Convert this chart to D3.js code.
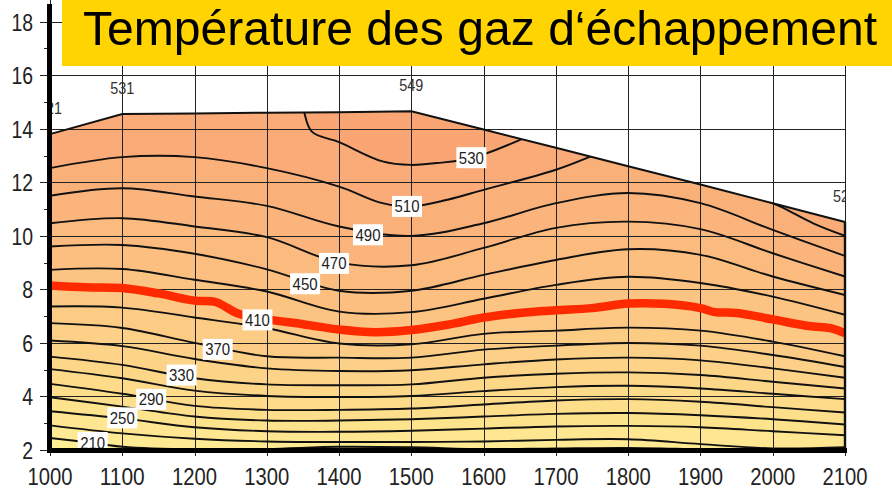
<!DOCTYPE html>
<html>
<head>
<meta charset="utf-8">
<script src="https://cdn.jsdelivr.net/npm/d3@7"></script>
<style>
  body { margin: 0; background: #fff; }
  svg { display: block; font-family: "Liberation Sans", Arial, sans-serif; }
</style>
</head>
<body>
<div id="chart"></div>
<script>
/////////////////////////////////////
///      DATA
/////////////////////////////////////
var titleText = "Température des gaz d\u2018échappement";

var xTickValues = [1000, 1100, 1200, 1300, 1400, 1500, 1600, 1700, 1800, 1900, 2000, 2100];
var yTickValues = [2, 4, 6, 8, 10, 12, 14, 16, 18];

// rpm columns used by most isolines
var rpmCols = [1000, 1100, 1200, 1300, 1400, 1500, 1600, 1700, 1800, 1900, 2000, 2100];

// full load curve (bmep, bar)
var fullLoad = [13.8, 14.55, 14.57, 14.6, 14.62, 14.65, 13.97, 13.29, 12.6, 11.92, 11.22, 10.52];
// max temperatures written on the full load curve
var peakRpm = [1000, 1100, 1500, 2100];
var peakTemp = ["521", "531", "549", "524"];

// isolines, bmep at rpmCols
var iso230 = [2.92, 2.62, 2.42, 2.32, 2.3, 2.3, 2.32, 2.38, 2.4, 2.22, 2.06, 2.1];
var iso250 = [3.45, 3.18, 2.85, 2.7, 2.68, 2.72, 2.8, 2.88, 2.9, 2.85, 2.7, 2.55];
var iso270 = [3.97, 3.62, 3.25, 3.1, 3.1, 3.15, 3.25, 3.35, 3.38, 3.3, 3.15, 2.95];
var iso290 = [4.47, 4.1, 3.65, 3.5, 3.5, 3.55, 3.7, 3.85, 3.9, 3.8, 3.6, 3.4];
var iso310 = [5.02, 4.68, 4.22, 4.02, 3.98, 4.02, 4.2, 4.35, 4.4, 4.3, 4.1, 3.9];
var iso330 = [5.49, 5.18, 4.68, 4.45, 4.42, 4.45, 4.7, 4.85, 4.9, 4.8, 4.55, 4.3];
var iso350 = [6.09, 5.88, 5.4, 5.05, 4.95, 4.98, 5.2, 5.38, 5.45, 5.35, 5.05, 4.7];
var iso370 = [6.74, 6.56, 6.0, 5.5, 5.45, 5.45, 5.75, 5.9, 6.0, 5.9, 5.55, 5.1];
var iso390 = [7.36, 7.32, 6.95, 6.55, 5.98, 5.95, 6.34, 6.46, 6.57, 6.46, 6.05, 5.5];
var iso430 = [8.73, 8.76, 8.36, 7.92, 7.17, 7.15, 7.65, 8.17, 8.47, 8.24, 7.73, 7.05];
var iso450 = [9.6, 9.66, 9.33, 8.75, 7.95, 7.95, 8.54, 9.1, 9.5, 9.29, 8.48, 7.79];
var iso470 = [10.47, 10.66, 10.35, 9.95, 9.0, 8.9, 9.55, 10.3, 10.53, 10.25, 9.35, 8.48];
var iso490 = [11.5, 11.78, 11.47, 11.12, 10.35, 10.0, 10.47, 11.22, 11.6, 11.22, 10.22, 9.25];

// isolines that do not span the whole map: [rpm, bmep]
var iso210 = [[1000, 2.45], [1060, 2.26], [1100, 2.12], [1200, 2.02], [1300, 2.04], [1400, 2.12],
              [1500, 2.1], [1600, 2.03], [1700, 2.06], [1800, 2.08], [1900, 2.03], [2000, 1.98], [2100, 2.0]];
var iso510a = [[1000, 12.53], [1100, 12.94], [1200, 12.94], [1300, 12.53], [1400, 11.84],
               [1460, 11.22], [1500, 11.1], [1550, 11.35], [1600, 11.72], [1700, 12.47], [1760, 13.1]];
var iso510b = [[1975, 11.5], [2010, 11.1], [2056, 10.47], [2100, 10.0]];
var iso530 = [[1350, 14.9], [1362, 13.9], [1400, 13.5], [1460, 12.78], [1500, 12.65],
              [1535, 12.72], [1583, 12.9], [1660, 13.7]];

// 410 °C line (red)
var iso410 = [[1000, 8.15], [1050, 8.08], [1100, 8.05], [1150, 7.85], [1200, 7.58], [1230, 7.52],
              [1260, 7.1], [1300, 6.88], [1350, 6.7], [1400, 6.5], [1450, 6.4], [1500, 6.48],
              [1550, 6.68], [1600, 6.95], [1650, 7.12], [1700, 7.22], [1750, 7.3], [1800, 7.47],
              [1850, 7.46], [1900, 7.3], [1920, 7.15], [1950, 7.12], [2000, 6.88], [2050, 6.63],
              [2080, 6.55], [2100, 6.36]];

// label positions on isolines
var labelTemp = [210, 250, 290, 330, 370, 410, 450, 470, 490, 510, 530];
var labelRpm  = [1059, 1100, 1140, 1182, 1232, 1287, 1353, 1393, 1440, 1494, 1583];
var labelBmep = [2.28, 3.2, 3.89, 4.8, 5.76, 6.86, 8.21, 8.97, 10.04, 11.1, 12.92];

/////////////////////////////////////
///      SETUP
/////////////////////////////////////
var width = 892, height = 491;

var x = d3.scaleLinear().domain([1000, 2100]).range([50, 845]);
var y = d3.scaleLinear().domain([2, 18]).range([450, 21.7]);

var fillColor = d3.scaleLinear()
  .domain([190, 290, 410, 470, 540])
  .range(["#FFF095", "#FDDD8A", "#FCC683", "#FBB77D", "#F9A674"]);

function cols(vals){
  return vals.map(function(v, i){ return [rpmCols[i], v]; });
}

var isoLines = [
  {t: 210, pts: iso210},
  {t: 230, pts: cols(iso230)},
  {t: 250, pts: cols(iso250)},
  {t: 270, pts: cols(iso270)},
  {t: 290, pts: cols(iso290)},
  {t: 310, pts: cols(iso310)},
  {t: 330, pts: cols(iso330)},
  {t: 350, pts: cols(iso350)},
  {t: 370, pts: cols(iso370)},
  {t: 390, pts: cols(iso390)},
  {t: 410, pts: iso410, red: true},
  {t: 430, pts: cols(iso430)},
  {t: 450, pts: cols(iso450)},
  {t: 470, pts: cols(iso470)},
  {t: 490, pts: cols(iso490)},
  {t: 510, pts: iso510a},
  {t: 510, pts: iso510b},
  {t: 530, pts: iso530}
];

var svg = d3.select("#chart").append("svg")
  .attr("width", width)
  .attr("height", height);

svg.append("rect").attr("width", width).attr("height", height).attr("fill", "#fff");

var curveLine = d3.line()
  .x(function(d){ return x(d[0]); })
  .y(function(d){ return y(d[1]); })
  .curve(d3.curveCatmullRom.alpha(0.5));

var straightLine = d3.line()
  .x(function(d){ return x(d[0]); })
  .y(function(d){ return y(d[1]); });

var envelope = cols(fullLoad);
var envelopePoly = [[1000, 2]].concat(envelope).concat([[2100, 2]]);

var defs = svg.append("defs");
defs.append("clipPath").attr("id", "mapClip")
  .append("path").attr("d", straightLine(envelopePoly) + "Z");
defs.append("clipPath").attr("id", "plotClip")
  .append("rect").attr("x", 47).attr("y", 0).attr("width", 798).attr("height", 460);

/////////////////////////////////////
///      FILL BANDS
/////////////////////////////////////
// each band: area above an isoline, cut by the full load curve
function bandPath(p){
  var first = p[0], last = p[p.length - 1];
  var top = y(18.5);
  var x0 = first[0] === 1000 ? x(1000) - 5 : x(first[0]);
  var x1 = last[0] === 2100 ? x(2100) + 5 : x(last[0]);
  var d = curveLine(p);
  if (last[0] === 2100) d += "L" + x1 + "," + y(last[1]);
  d += "L" + x1 + "," + top + "L" + x0 + "," + top;
  if (first[0] === 1000) d += "L" + x0 + "," + y(first[1]);
  return d + "Z";
}

var map = svg.append("g").attr("clip-path", "url(#mapClip)");

map.append("path")
  .attr("d", straightLine(envelopePoly) + "Z")
  .attr("fill", fillColor(200));

isoLines.forEach(function(iso){
  map.append("path")
    .attr("d", bandPath(iso.pts))
    .attr("fill", fillColor(iso.t + 10));
});

/////////////////////////////////////
///      GRID
/////////////////////////////////////
var grid = svg.append("g");
grid.selectAll(".vgrid").data(xTickValues).enter().append("line")
  .attr("x1", function(d){ return Math.round(x(d)) + 0.5; })
  .attr("x2", function(d){ return Math.round(x(d)) + 0.5; })
  .attr("y1", 0)
  .attr("y2", 456)
  .attr("stroke", "#222")
  .attr("stroke-width", 1);

grid.selectAll(".hgrid").data(yTickValues).enter().append("line")
  .attr("x1", 40)
  .attr("x2", x(2100))
  .attr("y1", function(d){ return Math.round(y(d)) + 0.5; })
  .attr("y2", function(d){ return Math.round(y(d)) + 0.5; })
  .attr("stroke", "#222")
  .attr("stroke-width", 1);

grid.selectAll(".minor").data(d3.range(3, 18, 2)).enter().append("line")
  .attr("x1", 44)
  .attr("x2", 48)
  .attr("y1", function(d){ return Math.round(y(d)) + 0.5; })
  .attr("y2", function(d){ return Math.round(y(d)) + 0.5; })
  .attr("stroke", "#222")
  .attr("stroke-width", 1);

/////////////////////////////////////
///      ISOLINES
/////////////////////////////////////
var lines = svg.append("g").attr("clip-path", "url(#mapClip)");
isoLines.forEach(function(iso){
  lines.append("path")
    .attr("d", curveLine(iso.pts))
    .attr("fill", "none")
    .attr("stroke", iso.red ? "#FF2A00" : "#111")
    .attr("stroke-width", iso.red ? 8.5 : 1.9)
    .attr("stroke-linejoin", "round");
});

// full load curve and right border
svg.append("path")
  .attr("d", straightLine(envelope))
  .attr("fill", "none")
  .attr("stroke", "#111")
  .attr("stroke-width", 2);
svg.append("line")
  .attr("x1", x(2100)).attr("x2", x(2100))
  .attr("y1", y(fullLoad[fullLoad.length - 1])).attr("y2", y(2))
  .attr("stroke", "#111")
  .attr("stroke-width", 2.4);

/////////////////////////////////////
///      LABELS
/////////////////////////////////////
var labels = svg.append("g");
labelTemp.forEach(function(t, i){
  var cx = x(labelRpm[i]), cy = y(labelBmep[i]);
  labels.append("rect")
    .attr("x", cx - 15).attr("y", cy - 10.5)
    .attr("width", 30).attr("height", 21)
    .attr("fill", "#fff");
  labels.append("text")
    .attr("x", cx).attr("y", cy + 6)
    .attr("text-anchor", "middle")
    .attr("font-size", 17)
    .attr("textLength", 25)
    .attr("lengthAdjust", "spacingAndGlyphs")
    .attr("fill", "#222")
    .text(t);
});

var peaks = svg.append("g").attr("clip-path", "url(#plotClip)");
peakRpm.forEach(function(r, i){
  var yv = fullLoad[rpmCols.indexOf(r)];
  peaks.append("text")
    .attr("x", x(r)).attr("y", y(yv) - 20)
    .attr("text-anchor", "middle")
    .attr("font-size", 16.5)
    .attr("textLength", 24)
    .attr("lengthAdjust", "spacingAndGlyphs")
    .attr("fill", "#333")
    .text(peakTemp[i]);
});

/////////////////////////////////////
///      AXES
/////////////////////////////////////
svg.append("rect").attr("x", 47).attr("y", 4).attr("width", 5).attr("height", 449).attr("fill", "#000");
svg.append("rect").attr("x", 47).attr("y", 448).attr("width", 800).attr("height", 5).attr("fill", "#000");

svg.selectAll(".xlab").data(xTickValues).enter().append("text")
  .attr("x", function(d){ return x(d); })
  .attr("y", 485)
  .attr("text-anchor", "middle")
  .attr("font-size", 23)
  .attr("textLength", 45)
  .attr("lengthAdjust", "spacingAndGlyphs")
  .attr("fill", "#222")
  .text(function(d){ return d; });

svg.selectAll(".ylab").data(yTickValues).enter().append("text")
  .attr("x", 33)
  .attr("y", function(d){ return y(d) + 9; })
  .attr("text-anchor", "end")
  .attr("font-size", 23)
  .attr("textLength", function(d){ return String(d).length * 10.8; })
  .attr("lengthAdjust", "spacingAndGlyphs")
  .attr("fill", "#222")
  .text(function(d){ return d; });

/////////////////////////////////////
///      TITLE
/////////////////////////////////////
svg.append("rect")
  .attr("x", 62).attr("y", 0)
  .attr("width", width - 62).attr("height", 66)
  .attr("fill", "#FFD400");
svg.append("text")
  .attr("x", 83).attr("y", 45)
  .attr("font-size", 48)
  .attr("textLength", 794)
  .attr("lengthAdjust", "spacingAndGlyphs")
  .attr("fill", "#000")
  .text(titleText);
</script>
</body>
</html>
